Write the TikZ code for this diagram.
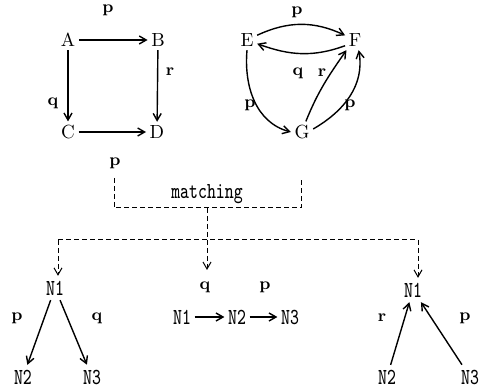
\documentclass[tikz,border=0pt]{standalone}
\usetikzlibrary{arrows.meta}
\begin{document}
\begin{tikzpicture}[x=0.5pt, y=0.5pt, >={Straight Barb[length=3.5pt,width=4pt]}, line width=0.7pt,
  obj/.style={font=\fontsize{9.5}{11}\selectfont, inner sep=1.5pt},
  lbl/.style={font=\fontsize{8.5}{10}\selectfont\bfseries, inner sep=1pt},
  mono/.style={font=\fontsize{8.5}{10}\selectfont\ttfamily, inner sep=1.5pt, yscale=1.35, transform shape},
  dsh/.style={dash pattern=on 2.5pt off 1.5pt, line width=0.5pt}]
  \useasboundingbox (0,0) rectangle (485,390);

  % 1. square A, B, C, D
  \node[obj] (a) at (68,350) {A};
  \node[obj] (b) at (158,350) {B};
  \node[obj] (c) at (68,258) {C};
  \node[obj] (d) at (157,258) {D};
  \draw[->] (a) -- (b);
  \draw[->] (a) -- (c);
  \draw[->] (b) -- (d);
  \draw[->] (c) -- (d);
  \node[lbl] (pab) at (108,380) {p};
  \node[lbl] (rbd) at (170,318) {r};
  \node[lbl] (qac) at (53,287) {q};

  % 2. triangle E, F, G
  \node[obj] (e) at (247,350) {E};
  \node[obj] (f) at (355,350) {F};
  \node[obj] (g) at (302,258) {G};
  \draw[->] (e.25) to[out=25, in=155] (f.155);
  \draw[->] (f.210) to[out=200, in=-20] (e.-20);
  \draw[->] (e.south) to[out=-95, in=165] (g.west);
  \draw[->] (g.70) to[out=68, in=-125] (f.230);
  \draw[->] (g.15) to[out=30, in=-80] (f.-70);
  \node[lbl] (pef) at (297,378) {p};
  \node[lbl] (qfe) at (298,317) {q};
  \node[lbl] (rgf) at (322,317) {r};
  \node[lbl] (peg) at (250,285) {p};
  \node[lbl] (pgf) at (350,285) {p};

  % 3. matching box and dashed tree
  \node[lbl] (pm) at (115,227) {p};
  \node[mono] (m) at (207,196) {matching};
  \draw[dsh] (114,212) -- (114,182) -- (301,182) -- (301,212);
  \coordinate (j) at (207,182);
  \coordinate (jm) at (207,150);
  \coordinate (jl) at (58,150);
  \coordinate (jr) at (418,150);
  \coordinate (jc) at (207,120);
  \draw[dsh] (j) -- (jm);
  \draw[dsh] (jl) -- (jr);

  % 4. left: N1 -> N2, N3
  \node[mono] (ln1) at (55,102) {N1};
  \node[mono] (ln2) at (23,13) {N2};
  \node[mono] (ln3) at (92,13) {N3};
  \draw[dsh, ->] (jl) -- (jl |- ln1.north);
  \draw[->] (ln1) -- (ln2);
  \draw[->] (ln1) -- (ln3);
  \node[lbl] (pl) at (17,72) {p};
  \node[lbl] (ql) at (97,72) {q};

  % 5. middle: N1 -> N2 -> N3
  \draw[dsh, ->] (jm) -- (jc);
  \node[mono] (cn1) at (182,73) {N1};
  \node[mono] (cn2) at (237,73) {N2};
  \node[mono] (cn3) at (290,73) {N3};
  \draw[->] (cn1) -- (cn2);
  \draw[->] (cn2) -- (cn3);
  \node[lbl] (qc) at (205,103) {q};
  \node[lbl] (pc) at (265,103) {p};

  % 6. right: N2, N3 -> N1
  \node[mono] (rn1) at (413,100) {N1};
  \node[mono] (rn2) at (387,13) {N2};
  \node[mono] (rn3) at (470,13) {N3};
  \draw[dsh, ->] (jr) -- (jr |- rn1.north);
  \draw[->] (rn2) -- (rn1);
  \draw[->] (rn3) -- (rn1);
  \node[lbl] (rr) at (382,72) {r};
  \node[lbl] (pr) at (465,72) {p};
\end{tikzpicture}
\end{document}
